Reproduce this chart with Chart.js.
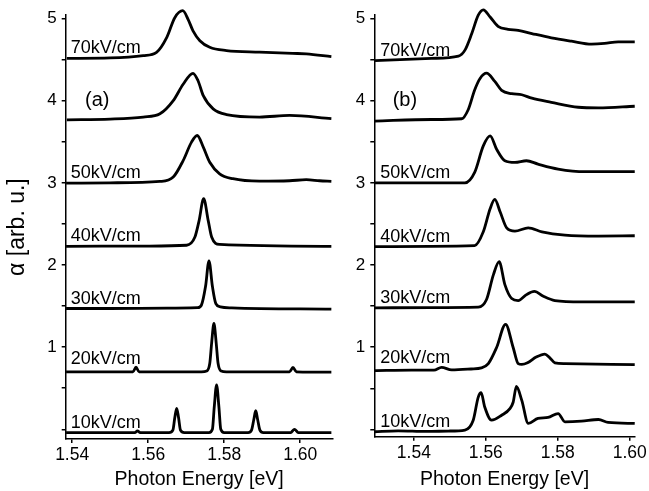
<!DOCTYPE html>
<html><head><meta charset="utf-8">
<script src="https://cdn.jsdelivr.net/npm/chart.js@4/dist/chart.umd.min.js"></script>
<style>
html,body{margin:0;padding:0;background:#fff;}
#wrap{position:relative;width:649px;height:491px;overflow:hidden;background:#fff;}
canvas{position:absolute;top:0;}
#ca{left:0;} #cb{left:335px;}
</style></head><body>
<div id="wrap"><canvas id="ca" width="345" height="491"></canvas><canvas id="cb" width="314" height="491"></canvas></div>
<script>
// ---------- Data: panel (a) [photon energy eV, alpha arb. u. (offset)] ----------
const a10 = [[1.5384,-0.04],[1.5540,-0.04],[1.5565,-0.04],[1.5572,-0.018],[1.5579,-0.04],[1.5655,-0.04],[1.5665,-0.01],[1.5670,0.14],[1.5675,0.255],[1.5680,0.14],[1.5685,-0.01],[1.5695,-0.04],[1.5760,-0.04],[1.5769,0.0],[1.5774,0.28],[1.5780,0.54],[1.5786,0.28],[1.5791,0.0],[1.5800,-0.04],[1.5863,-0.04],[1.5872,-0.01],[1.5878,0.12],[1.5883,0.226],[1.5888,0.12],[1.5894,-0.01],[1.5903,-0.04],[1.5975,-0.04],[1.5985,0.0],[1.5995,-0.04],[1.6082,-0.04]];
const a20 = [[1.5384,0.70],[1.5550,0.70],[1.5560,0.70],[1.5568,0.755],[1.5576,0.70],[1.5740,0.70],[1.5754,0.71],[1.5762,0.80],[1.5767,1.05],[1.5773,1.288],[1.5779,1.05],[1.5784,0.80],[1.5792,0.71],[1.5806,0.70],[1.5870,0.70],[1.5972,0.70],[1.5981,0.753],[1.5990,0.70],[1.6082,0.695]];
const a30 = [[1.5384,1.47],[1.5500,1.47],[1.5650,1.475],[1.5730,1.48],[1.5740,1.51],[1.5751,1.74],[1.5760,2.05],[1.5769,1.74],[1.5778,1.53],[1.5790,1.49],[1.5820,1.478],[1.6082,1.462]];
const a40 = [[1.5384,2.227],[1.5600,2.23],[1.5701,2.24],[1.5723,2.34],[1.5734,2.54],[1.5746,2.807],[1.5758,2.54],[1.5767,2.34],[1.5788,2.25],[1.6082,2.227]];
const a50 = [[1.5384,2.996],[1.5500,3.0],[1.5631,3.017],[1.5666,3.07],[1.5692,3.27],[1.5714,3.495],[1.5729,3.576],[1.5745,3.434],[1.5762,3.25],[1.5788,3.11],[1.5823,3.05],[1.5893,3.02],[1.5972,3.025],[1.6016,3.038],[1.6051,3.025],[1.6082,3.017]];
const a60 = [[1.5386,3.767],[1.5500,3.775],[1.5587,3.80],[1.5631,3.84],[1.5666,4.0],[1.5692,4.20],[1.5718,4.333],[1.5731,4.245],[1.5745,4.06],[1.5771,3.90],[1.5806,3.83],[1.5893,3.80],[1.5972,3.82],[1.6082,3.78]];
const a70 = [[1.5386,4.515],[1.5500,4.52],[1.5587,4.548],[1.5622,4.588],[1.5649,4.77],[1.5670,5.01],[1.5691,5.095],[1.5705,4.99],[1.5718,4.85],[1.5736,4.73],[1.5762,4.65],[1.5806,4.61],[1.5893,4.59],[1.5980,4.575],[1.6016,4.57],[1.6082,4.535]];
// ---------- Data: panel (b) ----------
const b10 = [[1.5290,-0.029],[1.5356,-0.017],[1.5435,-0.025],[1.5496,-0.02],[1.5542,-0.008],[1.5565,0.112],[1.5579,0.393],[1.5587,0.446],[1.5597,0.273],[1.5616,0.112],[1.5644,0.172],[1.5667,0.253],[1.5676,0.33],[1.5685,0.522],[1.5700,0.353],[1.5718,0.072],[1.5745,0.133],[1.5773,0.145],[1.5801,0.193],[1.5820,0.092],[1.5866,0.10],[1.5913,0.12],[1.5940,0.084],[1.6014,0.072]];
const b20 = [[1.5290,0.715],[1.5393,0.72],[1.5456,0.72],[1.5477,0.755],[1.5505,0.724],[1.5559,0.735],[1.5588,0.748],[1.5607,0.80],[1.5630,0.996],[1.5655,1.279],[1.5676,0.996],[1.5690,0.80],[1.5700,0.79],[1.5716,0.81],[1.5740,0.88],[1.5764,0.917],[1.5778,0.87],[1.5792,0.81],[1.5820,0.80],[1.6014,0.788]];
const b30 = [[1.5290,1.479],[1.5445,1.482],[1.5579,1.487],[1.5602,1.58],[1.5621,1.88],[1.5637,2.042],[1.5653,1.761],[1.5672,1.592],[1.5690,1.568],[1.5713,1.64],[1.5735,1.68],[1.5760,1.62],[1.5792,1.568],[1.5866,1.551],[1.6014,1.551]];
const b40 = [[1.5290,2.223],[1.5445,2.228],[1.5569,2.235],[1.5593,2.404],[1.5612,2.685],[1.5625,2.799],[1.5640,2.645],[1.5658,2.452],[1.5681,2.412],[1.5718,2.452],[1.5756,2.404],[1.5820,2.364],[1.5913,2.352],[1.6014,2.356]];
const b50 = [[1.5290,2.999],[1.5445,3.0],[1.5542,3.0],[1.5569,3.128],[1.5593,3.45],[1.5612,3.571],[1.5630,3.409],[1.5653,3.269],[1.5681,3.249],[1.5713,3.269],[1.5745,3.228],[1.5801,3.168],[1.5876,3.136],[1.6014,3.136]];
const b60 = [[1.5290,3.751],[1.5449,3.771],[1.5533,3.78],[1.5551,3.89],[1.5569,4.13],[1.5584,4.27],[1.5602,4.334],[1.5625,4.234],[1.5644,4.125],[1.5672,4.085],[1.5700,4.072],[1.5728,4.03],[1.5782,3.98],[1.5857,3.92],[1.5913,3.912],[1.6014,3.932]];
const b70 = [[1.5292,4.487],[1.5449,4.515],[1.5524,4.543],[1.5542,4.615],[1.5561,4.817],[1.5579,5.04],[1.5593,5.106],[1.5612,5.018],[1.5634,4.905],[1.5662,4.868],[1.5690,4.856],[1.5728,4.817],[1.5782,4.765],[1.5838,4.724],[1.5894,4.688],[1.5930,4.696],[1.5968,4.716],[1.6014,4.716]];
// ---------- Labels & ticks ----------
const fieldLabels = ['10kV/cm','20kV/cm','30kV/cm','40kV/cm','50kV/cm','','70kV/cm'];
const xTickValues = [1.54, 1.56, 1.58, 1.60];
const yTickValues = [0,0.5,1,1.5,2,2.5,3,3.5,4,4.5,5];
const xTitle = 'Photon Energy [eV]';
const yTitle = 'α [arb. u.]';

const FONT = '"Liberation Sans", Arial, Helvetica, sans-serif';
Chart.defaults.color = '#000';
Chart.defaults.font.family = FONT;

const tagPlugin = {
  id: 'tags',
  afterDatasetsDraw(chart, args, o) {
    const {ctx, chartArea, scales} = chart;
    const x = scales.x, y = scales.y;
    ctx.save();
    ctx.fillStyle = '#000';
    ctx.font = '18px ' + FONT;
    ctx.textAlign = 'left';
    ctx.textBaseline = 'alphabetic';
    o.names.forEach((t, i) => {
      if (!t) return;
      const d = chart.data.datasets[i].data[0];
      ctx.fillText(t, chartArea.left + o.dx, y.getPixelForValue(d.y) - o.dy[i]);
    });
    ctx.font = '20px ' + FONT;
    ctx.textAlign = 'center';
    ctx.textBaseline = 'middle';
    ctx.fillText(o.tag, x.getPixelForValue(o.tagPos[0]), y.getPixelForValue(o.tagPos[1]));
    ctx.restore();
  }
};

function makePanel(id, series, cfg) {
  const datasets = series.map(s => ({
    data: s.map(p => ({x: p[0], y: p[1]})),
    borderColor: '#000',
    borderWidth: 2.8,
    pointRadius: 0,
    fill: false,
    cubicInterpolationMode: 'monotone',
    clip: false
  }));
  return new Chart(document.getElementById(id), {
    type: 'line',
    data: {datasets},
    options: {
      responsive: false,
      animation: false,
      devicePixelRatio: 1,
      layout: {padding: {top: cfg.padTop, right: cfg.padRight, left: 0, bottom: 0}},
      plugins: {
        legend: {display: false},
        tooltip: {enabled: false},
        tags: {names: fieldLabels, dx: cfg.labelDx, dy: [5, 8, 5, 5, 5, 5, 5], tag: cfg.tag, tagPos: cfg.tagPos}
      },
      scales: {
        x: {
          type: 'linear',
          min: cfg.xMin, max: cfg.xMax,
          afterBuildTicks: s => { s.ticks = xTickValues.map(v => ({value: v})); },
          afterFit: s => { s.height = cfg.xAxisH; },
          ticks: {font: {size: 17.5}, color: '#000', padding: 2, maxRotation: 0,
                  callback: v => Number(v).toFixed(2)},
          grid: {drawOnChartArea: false, drawTicks: true, tickLength: 4, color: '#000', lineWidth: 1.5},
          border: {color: '#000', width: 1.5},
          title: {display: true, text: xTitle, font: {size: 19.5}, color: '#000', padding: {top: 0, bottom: 0}}
        },
        y: {
          type: 'linear',
          min: cfg.yMin, max: cfg.yMax,
          afterBuildTicks: s => { s.ticks = yTickValues.map(v => ({value: v})); },
          afterFit: s => { s.width = cfg.yAxisW; },
          ticks: {font: {size: 17}, color: '#000', padding: 5,
                  callback: v => (Number.isInteger(v) && v > 0) ? String(v) : ''},
          grid: {drawOnChartArea: false, drawTicks: true, tickLength: 4, color: '#000', lineWidth: 1.5},
          border: {color: '#000', width: 1.5},
          title: {display: cfg.showYTitle, text: yTitle, font: {size: 23}, color: '#000', padding: {top: 4, bottom: 0}}
        }
      }
    },
    plugins: [tagPlugin]
  });
}

makePanel('ca', [a10, a20, a30, a40, a50, a60, a70], {
  xMin: 1.5383, xMax: 1.6085, yMin: -0.118, yMax: 5.04,
  padTop: 14.5, padRight: 12.5, xAxisH: 52, yAxisW: 65.7,
  showYTitle: true, labelDx: 5, tag: '(a)', tagPos: [1.5466, 4.0]
});
makePanel('cb', [b10, b20, b30, b40, b50, b60, b70], {
  xMin: 1.529, xMax: 1.6014, yMin: -0.089, yMax: 5.04,
  padTop: 11.7, padRight: 14, xAxisH: 54.3, yAxisW: 39.3,
  showYTitle: false, labelDx: 6, tag: '(b)', tagPos: [1.5375, 4.0]
});
</script>
</body></html>
